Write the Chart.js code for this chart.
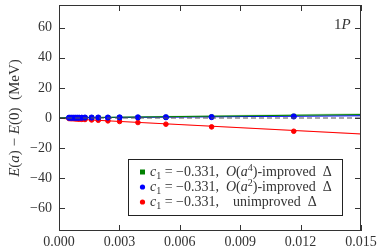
<!DOCTYPE html>
<html><head><meta charset="utf-8">
<script src="https://cdn.jsdelivr.net/npm/chart.js@4"></script>
<style>html,body{margin:0;padding:0;background:#fff}#c{display:block}</style>
</head><body>
<canvas id="c" width="382" height="249"></canvas>
<script>
// ---- data ----
const aSq = [0.0005,0.0006,0.0007,0.0008,0.0009,0.0010,0.00113,0.00129,0.00162,0.00195,0.00243,0.00301,0.00392,0.00531,0.00758,0.01166];
const unimproved = [-0.4,-0.5,-0.5,-0.6,-0.7,-0.8,-0.9,-1.0,-1.3,-1.5,-1.9,-2.3,-3.0,-4.1,-5.9,-8.8];
const improvedA2 = [0.2,0.2,0.2,0.2,0.2,0.2,0.2,0.3,0.3,0.3,0.3,0.4,0.4,0.5,0.6,1.0];
const improvedA4 = [0.2,0.2,0.2,0.2,0.2,0.2,0.3,0.3,0.3,0.3,0.4,0.4,0.5,0.6,0.8,1.3];
const fitX = [0, 0.015];
const fitUnimproved = [-0.2, -10.6];
const fitA2 = [0.1, 1.5];
const fitA4 = [0.1, 2.3];
const bandA4 = [0.4, 0.8];   // half-widths at fitX
const bandA2 = [0.2, 0.4];
const bandUn = [0.2, 0.4];
const xTicks = [0, 0.003, 0.006, 0.009, 0.012, 0.015];
const yTicks = [-60, -40, -20, 0, 20, 40, 60];
const legendLabels = [
  {color:'#008000', shape:'rect', sup:'4', tail:')-improved  Δ', pre:'𝒪'},
  {color:'#0000ff', shape:'circle', sup:'2', tail:')-improved  Δ', pre:'𝒪'},
  {color:'#ff0000', shape:'circle', sup:null, tail:'unimproved  Δ', pre:null}
];
const c1Value = '−0.331';

const SERIF = '"Liberation Serif", "DejaVu Serif", serif';
const pts = (xs, ys) => xs.map((x,i)=>({x, y: ys[i]}));
const band = (ys, w, s) => fitX.map((x,i)=>({x, y: ys[i] + s*w[i]}));

function drawSegs(ctx, segs, x, y) {
  let cx = x;
  for (const s of segs) {
    ctx.font = s.f;
    ctx.fillText(s.t, cx, y + (s.dy||0));
    cx += ctx.measureText(s.t).width;
  }
  return cx - x;
}
function segsWidth(ctx, segs){ let w=0; for(const s of segs){ctx.font=s.f; w+=ctx.measureText(s.t).width;} return w; }

const deco = {
  id:'deco',
  afterDatasetsDraw(chart){
    const ctx = chart.ctx, a = chart.chartArea;
    const ys = chart.scales.y;
    ctx.save();
    ctx.strokeStyle = '#555'; ctx.lineWidth = 1.2; ctx.setLineDash([5,3]);
    const y0 = ys.getPixelForValue(0);
    ctx.beginPath(); ctx.moveTo(a.left, y0); ctx.lineTo(a.right, y0); ctx.stroke();
    ctx.setLineDash([]);
    ctx.restore();
  },
  afterDraw(chart){
    const ctx = chart.ctx, a = chart.chartArea;
    const xs = chart.scales.x, ys = chart.scales.y;
    ctx.save();
    ctx.strokeStyle = '#333'; ctx.lineWidth = 1;
    ctx.strokeRect(a.left+0.5, a.top+0.5, a.right-a.left-1, a.bottom-a.top-1);
    ctx.beginPath();
    for (const v of xTicks) {
      const px = Math.round(xs.getPixelForValue(v))+0.5;
      ctx.moveTo(px, a.bottom); ctx.lineTo(px, a.bottom-6);
      ctx.moveTo(px, a.top); ctx.lineTo(px, a.top+6);
    }
    for (const v of yTicks) {
      const py = Math.round(ys.getPixelForValue(v))+0.5;
      ctx.moveTo(a.left, py); ctx.lineTo(a.left+6, py);
      ctx.moveTo(a.right, py); ctx.lineTo(a.right-6, py);
    }
    ctx.stroke();
    ctx.fillStyle = '#333';
    ctx.textBaseline = 'alphabetic';
    drawSegs(ctx, [{t:'1', f:'15px '+SERIF},{t:'P', f:'italic 15px '+SERIF}], a.right-27, a.top+24);
    const ySegs = [
      {t:'E', f:'italic 15px '+SERIF},{t:'(', f:'15px '+SERIF},{t:'a', f:'italic 15px '+SERIF},
      {t:') − ', f:'15px '+SERIF},{t:'E', f:'italic 15px '+SERIF},{t:'(0)  (MeV)', f:'15px '+SERIF}
    ];
    const w = segsWidth(ctx, ySegs);
    ctx.save();
    ctx.translate(19, (a.top+a.bottom)/2);
    ctx.rotate(-Math.PI/2);
    drawSegs(ctx, ySegs, -w/2, 0);
    ctx.restore();
    const lx = 128, ly = 159, lw = 214, lh = 56;
    ctx.fillStyle = '#fff';
    ctx.fillRect(lx, ly, lw, lh);
    ctx.strokeStyle = '#222'; ctx.lineWidth = 1;
    ctx.strokeRect(lx+0.5, ly+0.5, lw, lh);
    legendLabels.forEach((L, i) => {
      const cy = ly + 13 + i*15;
      ctx.fillStyle = L.color;
      if (L.shape === 'rect') ctx.fillRect(140, cy-2.5, 5, 5);
      else { ctx.beginPath(); ctx.arc(142.5, cy, 2.6, 0, Math.PI*2); ctx.fill(); }
      ctx.fillStyle = '#333';
      const segs = [
        {t:'c', f:'italic 14px '+SERIF}, {t:'1', f:'10px '+SERIF, dy:3},
        {t:' = '+c1Value+',  ', f:'14px '+SERIF}
      ];
      if (L.pre) {
        segs.push({t:'O', f:'italic 14px '+SERIF});
        segs.push({t:'(', f:'14px '+SERIF});
        segs.push({t:'a', f:'italic 14px '+SERIF});
        segs.push({t:L.sup, f:'10px '+SERIF, dy:-5});
        segs.push({t:L.tail, f:'14px '+SERIF});
      } else {
        segs.push({t:'  '+L.tail, f:'14px '+SERIF});
      }
      drawSegs(ctx, segs, 150, cy+4);
    });
    ctx.restore();
  }
};

const lineDs = (data, color, w) => ({type:'line', data, borderColor: color, borderWidth: w, pointRadius: 0, fill:false, order: 5});
const bandDs = (ys, w, color) => [
  {type:'line', data: band(ys,w,1), borderWidth:0, pointRadius:0, fill:false, order:6},
  {type:'line', data: band(ys,w,-1), borderWidth:0, pointRadius:0, fill:'-1', backgroundColor: color, order:6}
];

new Chart(document.getElementById('c'), {
  type: 'scatter',
  data: { datasets: [
    ...bandDs(fitA4, bandA4, 'rgba(0,128,0,0.25)'),
    ...bandDs(fitA2, bandA2, 'rgba(80,80,255,0.3)'),
    ...bandDs(fitUnimproved, bandUn, 'rgba(255,80,80,0.25)'),
    lineDs(pts(fitX, fitA4), '#008000', 1),
    lineDs(pts(fitX, fitA2), '#0000ff', 1),
    lineDs(pts(fitX, fitUnimproved), '#ff0000', 1),
    {label:'unimproved', data: pts(aSq, unimproved), backgroundColor:'#ff0000', borderColor:'#ff0000', pointRadius:2.3, pointStyle:'circle', order:3},
    {label:'A4', data: pts(aSq, improvedA4), backgroundColor:'#008000', borderColor:'#008000', pointRadius:2.6, pointStyle:'rect', order:2},
    {label:'A2', data: pts(aSq, improvedA2), backgroundColor:'#0000ff', borderColor:'#0000ff', pointRadius:2.6, pointStyle:'circle', order:1}
  ]},
  options: {
    responsive:false, animation:false, devicePixelRatio:1,
    layout:{padding:{top:5, right:21, left:0, bottom:0}},
    plugins:{legend:{display:false}, tooltip:{enabled:false}},
    scales:{
      x:{ type:'linear', min:0, max:0.015,
        afterBuildTicks: s => { s.ticks = xTicks.map(v=>({value:v})); },
        afterFit: s => { s.height = 18; s.paddingLeft = 0; s.paddingRight = 0; },
        grid:{display:false, drawTicks:false, tickLength:0}, border:{display:false},
        ticks:{ color:'#333', padding:3, maxRotation:0, autoSkip:false, font:{family:SERIF, size:14},
          callback: v => v.toFixed(3) } },
      y:{ type:'linear', min:-75, max:75,
        afterBuildTicks: s => { s.ticks = yTicks.map(v=>({value:v})); },
        afterFit: s => { s.width = 59; s.paddingTop = 0; s.paddingBottom = 0; },
        grid:{display:false, drawTicks:false, tickLength:0}, border:{display:false},
        ticks:{ color:'#333', padding:7, font:{family:SERIF, size:14},
          callback: v => String(v).replace('-', '−') } }
    }
  },
  plugins:[deco]
});
</script>
</body></html>
